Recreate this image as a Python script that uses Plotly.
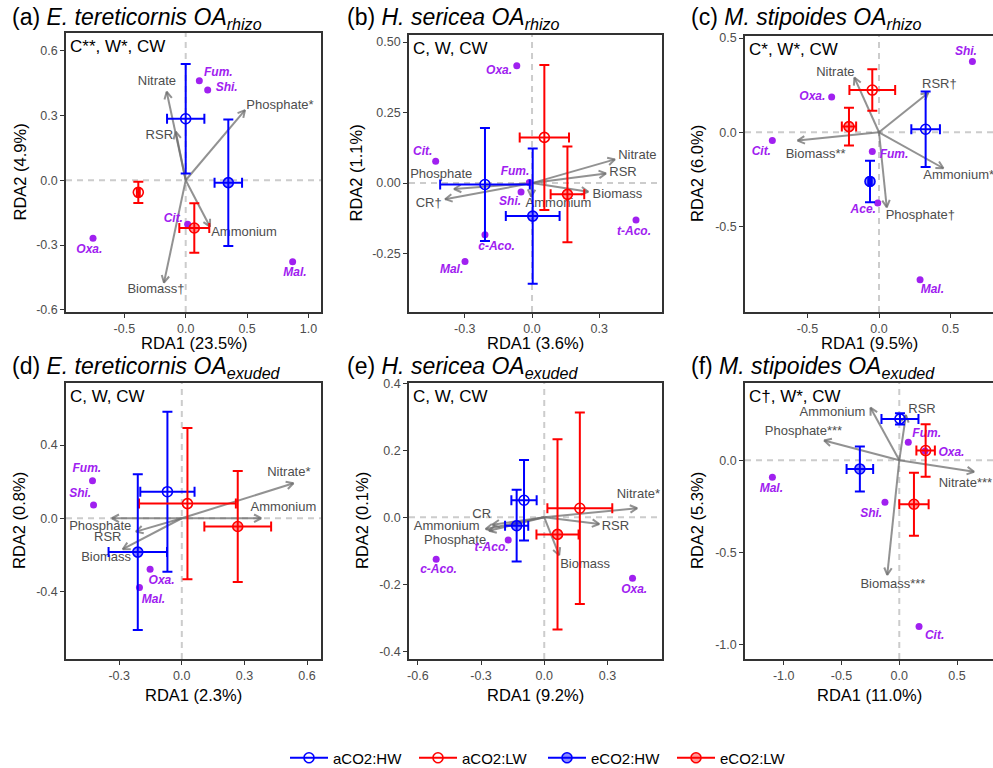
import math
import plotly.graph_objects as go

W, H = 993, 768
FONT = "Liberation Sans, Arial, Helvetica, sans-serif"

# ---------------- treatment groups ----------------
GROUPS = ["aCO2:HW", "aCO2:LW", "eCO2:HW", "eCO2:LW"]
GROUP_LINE = ["#0000FF", "#FF0000", "#0000FF", "#FF0000"]
GROUP_FILL = [None, None, "rgba(0,0,255,0.45)", "rgba(255,0,0,0.40)"]

# ---------------- (a) E. tereticornis, rhizosphere ----------------
a_grp_x = [0.000, -0.386, 0.347, 0.070]
a_grp_y = [0.285, -0.056, -0.011, -0.221]
a_grp_xerr = [0.152, 0.012, 0.112, 0.122]
a_grp_yerr = [0.254, 0.049, 0.293, 0.115]
a_env = ["Nitrate", "RSR", "Phosphate*", "Ammonium", "Biomass†"]
a_env_x = [-0.155, -0.081, 0.483, 0.198, -0.177]
a_env_y = [0.410, 0.225, 0.325, -0.215, -0.474]
a_env_lab_x = [-0.234, -0.215, 0.768, 0.475, -0.242]
a_env_lab_y = [0.456, 0.205, 0.347, -0.241, -0.505]
a_oa = ["Fum.", "Shi.", "Cit.", "Oxa.", "Mal."]
a_oa_x = [0.111, 0.179, 0.016, -0.755, 0.871]
a_oa_y = [0.461, 0.418, -0.204, -0.269, -0.377]
a_oa_lab_x = [0.266, 0.334, -0.101, -0.785, 0.890]
a_oa_lab_y = [0.495, 0.429, -0.179, -0.323, -0.430]

# ---------------- (b) H. sericea, rhizosphere ----------------
b_grp_x = [-0.210, 0.055, 0.003, 0.158]
b_grp_y = [-0.005, 0.162, -0.117, -0.040]
b_grp_xerr = [0.200, 0.110, 0.120, 0.075]
b_grp_yerr = [0.200, 0.257, 0.240, 0.170]
b_env = ["Nitrate", "RSR", "Biomass", "Ammonium", "Phosphate", "CR†"]
b_env_x = [0.370, 0.330, 0.251, -0.004, -0.348, -0.388]
b_env_y = [0.084, 0.034, -0.031, -0.048, -0.021, -0.057]
b_env_lab_x = [0.470, 0.406, 0.381, 0.118, -0.405, -0.461]
b_env_lab_y = [0.097, 0.035, -0.040, -0.072, 0.030, -0.072]
b_oa = ["Oxa.", "Cit.", "Fum.", "Shi.", "c-Aco.", "Mal.", "t-Aco."]
b_oa_x = [-0.068, -0.430, -0.012, -0.049, -0.210, -0.299, 0.464]
b_oa_y = [0.416, 0.077, 0.002, -0.032, -0.183, -0.278, -0.131]
b_oa_lab_x = [-0.147, -0.488, -0.076, -0.098, -0.158, -0.359, 0.455]
b_oa_lab_y = [0.397, 0.112, 0.039, -0.066, -0.228, -0.309, -0.174]

# ---------------- (c) M. stipoides, rhizosphere ----------------
c_grp_x = [0.326, -0.047, -0.063, -0.210]
c_grp_y = [0.016, 0.224, -0.261, 0.030]
c_grp_xerr = [0.100, 0.160, 0.012, 0.050]
c_grp_yerr = [0.200, 0.110, 0.110, 0.100]
c_env = ["Nitrate", "RSR†", "Biomass**", "Ammonium*", "Phosphate†"]
c_env_x = [-0.172, 0.345, -0.569, 0.450, 0.054]
c_env_y = [0.290, 0.210, -0.044, -0.191, -0.398]
c_env_lab_x = [-0.305, 0.422, -0.443, 0.557, 0.289]
c_env_lab_y = [0.316, 0.251, -0.117, -0.231, -0.443]
c_oa = ["Shi.", "Oxa.", "Cit.", "Fum.", "Ace.", "Mal."]
c_oa_x = [0.653, -0.331, -0.746, -0.047, -0.009, 0.287]
c_oa_y = [0.375, 0.187, -0.044, -0.102, -0.376, -0.783]
c_oa_lab_x = [0.608, -0.466, -0.823, 0.105, -0.110, 0.373]
c_oa_lab_y = [0.424, 0.187, -0.106, -0.120, -0.412, -0.836]

# ---------------- (d) E. tereticornis, exuded ----------------
d_grp_x = [-0.069, 0.027, -0.211, 0.268]
d_grp_y = [0.145, 0.080, -0.185, -0.045]
d_grp_xerr = [0.130, 0.232, 0.140, 0.160]
d_grp_yerr = [0.437, 0.413, 0.425, 0.303]
d_env = ["Nitrate*", "Ammonium", "Phosphate", "RSR", "Biomass"]
d_env_x = [0.535, 0.380, -0.335, -0.220, -0.283]
d_env_y = [0.191, 0.000, 0.000, -0.073, -0.169]
d_env_lab_x = [0.513, 0.487, -0.391, -0.355, -0.363]
d_env_lab_y = [0.251, 0.058, -0.047, -0.109, -0.218]
d_oa = ["Fum.", "Shi.", "Oxa.", "Mal."]
d_oa_x = [-0.428, -0.423, -0.152, -0.203]
d_oa_y = [0.205, 0.073, -0.278, -0.378]
d_oa_lab_x = [-0.455, -0.487, -0.097, -0.136]
d_oa_lab_y = [0.267, 0.131, -0.342, -0.445]

# ---------------- (e) H. sericea, exuded ----------------
e_grp_x = [-0.096, 0.169, -0.131, 0.063]
e_grp_y = [0.051, 0.027, -0.025, -0.051]
e_grp_xerr = [0.060, 0.154, 0.055, 0.100]
e_grp_yerr = [0.120, 0.286, 0.107, 0.284]
e_env = ["Nitrate*", "RSR", "Biomass", "CR", "Ammonium", "Phosphate"]
e_env_x = [0.441, 0.261, 0.071, -0.246, -0.278, -0.262]
e_env_y = [0.027, -0.020, -0.113, -0.022, -0.035, -0.040]
e_env_lab_x = [0.447, 0.338, 0.194, -0.297, -0.463, -0.423]
e_env_lab_y = [0.067, -0.028, -0.142, 0.009, -0.029, -0.069]
e_oa = ["t-Aco.", "c-Aco.", "Oxa."]
e_oa_x = [-0.171, -0.513, 0.419]
e_oa_y = [-0.068, -0.125, -0.182]
e_oa_lab_x = [-0.250, -0.502, 0.427]
e_oa_lab_y = [-0.091, -0.157, -0.217]

# ---------------- (f) M. stipoides, exuded ----------------
f_grp_x = [0.006, 0.228, -0.341, 0.127]
f_grp_y = [0.225, 0.053, -0.047, -0.239]
f_grp_xerr = [0.160, 0.080, 0.115, 0.127]
f_grp_yerr = [0.030, 0.143, 0.122, 0.171]
f_env = ["Ammonium", "RSR", "Phosphate***", "Nitrate***", "Biomass***"]
f_env_x = [-0.249, 0.058, -0.650, 0.647, -0.104]
f_env_y = [0.286, 0.246, 0.107, -0.062, -0.623]
f_env_lab_x = [-0.578, 0.197, -0.829, 0.572, -0.055]
f_env_lab_y = [0.261, 0.274, 0.156, -0.125, -0.674]
f_oa = ["Fum.", "Oxa.", "Mal.", "Shi.", "Cit."]
f_oa_x = [0.078, 0.223, -1.098, -0.124, 0.171]
f_oa_y = [0.098, 0.051, -0.092, -0.228, -0.904]
f_oa_lab_x = [0.237, 0.451, -1.107, -0.243, 0.306]
f_oa_lab_y = [0.141, 0.042, -0.156, -0.293, -0.955]

# ---------------- panel texts and ticks ----------------
SP = "&nbsp;"
titles = [
    f"(a) <i>E.{SP}tereticornis{SP}OA<sub>rhizo</sub></i>",
    f"(b) <i>H.{SP}sericea{SP}OA<sub>rhizo</sub></i>",
    f"(c) <i>M.{SP}stipoides{SP}OA<sub>rhizo</sub></i>",
    f"(d) <i>E.{SP}tereticornis{SP}OA<sub>exuded</sub></i>",
    f"(e) <i>H.{SP}sericea{SP}OA<sub>exuded</sub></i>",
    f"(f) <i>M.{SP}stipoides{SP}OA<sub>exuded</sub></i>",
]
stats = ["C**, W*, CW", "C, W, CW", "C*, W*, CW", "C, W, CW", "C, W, CW", "C†, W*, CW"]
xlabels = ["RDA1 (23.5%)", "RDA1 (3.6%)", "RDA1 (9.5%)", "RDA1 (2.3%)", "RDA1 (9.2%)", "RDA1 (11.0%)"]
ylabels = ["RDA2 (4.9%)", "RDA2 (1.1%)", "RDA2 (6.0%)", "RDA2 (0.8%)", "RDA2 (0.1%)", "RDA2 (5.3%)"]
xticks = [[-0.5, 0.0, 0.5, 1.0], [-0.3, 0.0, 0.3], [-0.5, 0.0, 0.5],
          [-0.3, 0.0, 0.3, 0.6], [-0.6, -0.3, 0.0, 0.3], [-1.0, -0.5, 0.0, 0.5]]
yticks = [[-0.6, -0.3, 0.0, 0.3, 0.6], [-0.25, 0.0, 0.25, 0.5], [-0.5, 0.0, 0.5],
          [-0.4, 0.0, 0.4], [-0.4, -0.2, 0.0, 0.2, 0.4], [-1.0, -0.5, 0.0]]
ytick_dec = [1, 2, 1, 1, 1, 1]

# ---------------- layout geometry (pixels) ----------------
BOX = [(66, 321, 33, 312), (409, 662, 35, 312), (745, 993, 36, 312),
       (66, 321, 383, 659), (409, 662, 383, 659), (745, 993, 383, 659)]
XR = [(-0.975, 1.102), (-0.549, 0.580), (-0.937, 0.797),
      (-0.555, 0.667), (-0.642, 0.559), (-1.335, 0.811)]
YR = [(-0.610, 0.682), (-0.457, 0.525), (-0.954, 0.511),
      (-0.769, 0.739), (-0.423, 0.401), (-1.080, 0.420)]
TITLE_POS = [(10, 35), (345, 35), (689, 35), (10, 384), (345, 384), (689, 384)]
XTITLE_Y = [343, 343, 343, 695, 695, 695]
YTITLE_X = [19, 355, 697, 19, 362, 697]

panels = [
    (a_grp_x, a_grp_y, a_grp_xerr, a_grp_yerr, a_env, a_env_x, a_env_y, a_env_lab_x, a_env_lab_y,
     a_oa, a_oa_x, a_oa_y, a_oa_lab_x, a_oa_lab_y),
    (b_grp_x, b_grp_y, b_grp_xerr, b_grp_yerr, b_env, b_env_x, b_env_y, b_env_lab_x, b_env_lab_y,
     b_oa, b_oa_x, b_oa_y, b_oa_lab_x, b_oa_lab_y),
    (c_grp_x, c_grp_y, c_grp_xerr, c_grp_yerr, c_env, c_env_x, c_env_y, c_env_lab_x, c_env_lab_y,
     c_oa, c_oa_x, c_oa_y, c_oa_lab_x, c_oa_lab_y),
    (d_grp_x, d_grp_y, d_grp_xerr, d_grp_yerr, d_env, d_env_x, d_env_y, d_env_lab_x, d_env_lab_y,
     d_oa, d_oa_x, d_oa_y, d_oa_lab_x, d_oa_lab_y),
    (e_grp_x, e_grp_y, e_grp_xerr, e_grp_yerr, e_env, e_env_x, e_env_y, e_env_lab_x, e_env_lab_y,
     e_oa, e_oa_x, e_oa_y, e_oa_lab_x, e_oa_lab_y),
    (f_grp_x, f_grp_y, f_grp_xerr, f_grp_yerr, f_env, f_env_x, f_env_y, f_env_lab_x, f_env_lab_y,
     f_oa, f_oa_x, f_oa_y, f_oa_lab_x, f_oa_lab_y),
]

ARROW_COLOR = "rgba(110,110,110,0.75)"
ENV_TEXT = "#4D4D4D"
OA_COLOR = "#A020F0"
HEAD_LEN = 8.0
HEAD_ANG = math.radians(28)


def px_x(px):
    return px / W


def px_y(py):
    return 1 - py / H


def group_marker(k):
    col = GROUP_LINE[k]
    fill = GROUP_FILL[k]
    if fill is None:
        return dict(symbol="circle-open", size=10, color=col, line=dict(width=1.6, color=col))
    return dict(symbol="circle", size=10, color=fill, line=dict(width=1.6, color=col))


fig = go.Figure()
layout = dict(
    width=W, height=H, margin=dict(l=0, r=0, t=0, b=0, autoexpand=False),
    paper_bgcolor="white", plot_bgcolor="white",
    font=dict(family=FONT, color="black"),
    showlegend=True,
    annotations=[], shapes=[],
)

for i, p in enumerate(panels):
    (gx, gy, gxe, gye, env, ex, ey, elx, ely, oa, ox, oy, olx, oly) = p
    n = i + 1
    sfx = "" if n == 1 else str(n)
    xref, yref = "x" + sfx, "y" + sfx
    l, r, t, b = BOX[i]
    x0, x1 = XR[i]
    y0, y1 = YR[i]
    sx = (r - l) / (x1 - x0)
    sy = (b - t) / (y1 - y0)

    axis_common = dict(
        showgrid=False, zeroline=False, showline=True, mirror=True,
        linecolor="#333333", linewidth=1.6, ticks="outside", ticklen=4,
        tickwidth=1.4, tickcolor="#333333",
        tickfont=dict(family=FONT, size=12.5, color="#4D4D4D"),
    )
    layout["xaxis" + sfx] = dict(
        axis_common, domain=[px_x(l), min(1.0, px_x(r))], range=[x0, x1], anchor=yref,
        tickvals=xticks[i], ticktext=[f"{v:.1f}" for v in xticks[i]],
    )
    layout["yaxis" + sfx] = dict(
        axis_common, domain=[px_y(b), px_y(t)], range=[y0, y1], anchor=xref,
        tickvals=yticks[i], ticktext=[f"{v:.{ytick_dec[i]}f}" for v in yticks[i]],
    )

    # dashed reference lines through the origin
    dash = dict(color="#CCCCCC", width=2, dash="6px,5px")
    layout["shapes"].append(dict(type="line", xref=xref, yref=yref + " domain",
                                 x0=0, x1=0, y0=0, y1=1, line=dash, layer="below"))
    layout["shapes"].append(dict(type="line", xref=xref + " domain", yref=yref,
                                 x0=0, x1=1, y0=0, y1=0, line=dash, layer="below"))

    # environmental vectors with open arrow heads
    for vx, vy in zip(ex, ey):
        ang = math.atan2(vy * sy, vx * sx)
        hx1 = vx - HEAD_LEN * math.cos(ang + HEAD_ANG) / sx
        hy1 = vy - HEAD_LEN * math.sin(ang + HEAD_ANG) / sy
        hx2 = vx - HEAD_LEN * math.cos(ang - HEAD_ANG) / sx
        hy2 = vy - HEAD_LEN * math.sin(ang - HEAD_ANG) / sy
        fig.add_trace(go.Scatter(
            x=[0, vx, None, hx1, vx, hx2], y=[0, vy, None, hy1, vy, hy2],
            mode="lines", line=dict(color=ARROW_COLOR, width=2),
            hoverinfo="skip", showlegend=False, xaxis=xref, yaxis=yref,
        ))
    fig.add_trace(go.Scatter(
        x=elx, y=ely, text=env, mode="text", textposition="middle center",
        textfont=dict(family=FONT, size=13, color=ENV_TEXT),
        hoverinfo="skip", showlegend=False, xaxis=xref, yaxis=yref,
    ))

    # organic acid scores
    fig.add_trace(go.Scatter(
        x=ox, y=oy, mode="markers", marker=dict(color=OA_COLOR, size=7),
        hoverinfo="skip", showlegend=False, xaxis=xref, yaxis=yref,
    ))
    fig.add_trace(go.Scatter(
        x=olx, y=oly, text=[f"<b><i>{s}</i></b>" for s in oa], mode="text",
        textposition="middle center",
        textfont=dict(family=FONT, size=12, color=OA_COLOR),
        hoverinfo="skip", showlegend=False, xaxis=xref, yaxis=yref,
    ))

    # treatment centroids with error bars
    for k in range(4):
        col = GROUP_LINE[k]
        fig.add_trace(go.Scatter(
            x=[gx[k]], y=[gy[k]], mode="markers", marker=group_marker(k),
            error_x=dict(type="data", array=[gxe[k]], color=col, thickness=2, width=5),
            error_y=dict(type="data", array=[gye[k]], color=col, thickness=2, width=5),
            name=GROUPS[k], showlegend=False, hoverinfo="skip", xaxis=xref, yaxis=yref,
        ))

    # panel texts
    tx, ty = TITLE_POS[i]
    layout["annotations"].append(dict(
        text=titles[i], xref="paper", yref="paper", x=px_x(tx), y=px_y(ty),
        xanchor="left", yanchor="bottom", showarrow=False,
        font=dict(family=FONT, size=23, color="black"),
    ))
    layout["annotations"].append(dict(
        text=stats[i], xref="paper", yref="paper", x=px_x(l + 2), y=px_y(t + 13),
        xanchor="left", yanchor="middle", showarrow=False,
        font=dict(family=FONT, size=17, color="black"),
    ))
    layout["annotations"].append(dict(
        text=xlabels[i], xref="paper", yref="paper", x=px_x((l + r) / 2), y=px_y(XTITLE_Y[i]),
        xanchor="center", yanchor="middle", showarrow=False,
        font=dict(family=FONT, size=16.5, color="black"),
    ))
    layout["annotations"].append(dict(
        text=ylabels[i], xref="paper", yref="paper", x=px_x(YTITLE_X[i]), y=px_y((t + b) / 2),
        xanchor="center", yanchor="middle", showarrow=False, textangle=-90,
        font=dict(family=FONT, size=16.5, color="black"),
    ))

# legend entries
for k in range(4):
    col = GROUP_LINE[k]
    fig.add_trace(go.Scatter(
        x=[None], y=[None], mode="lines+markers", name=GROUPS[k],
        line=dict(color=col, width=2), marker=group_marker(k), showlegend=True,
    ))

layout["legend"] = dict(
    orientation="h", x=px_x(285), y=px_y(758), xanchor="left", yanchor="middle",
    font=dict(family=FONT, size=15, color="black"), itemwidth=38,
    entrywidth=76, entrywidthmode="pixels", bgcolor="rgba(0,0,0,0)",
)

fig.update_layout(**layout)
fig.write_html("out.html")
